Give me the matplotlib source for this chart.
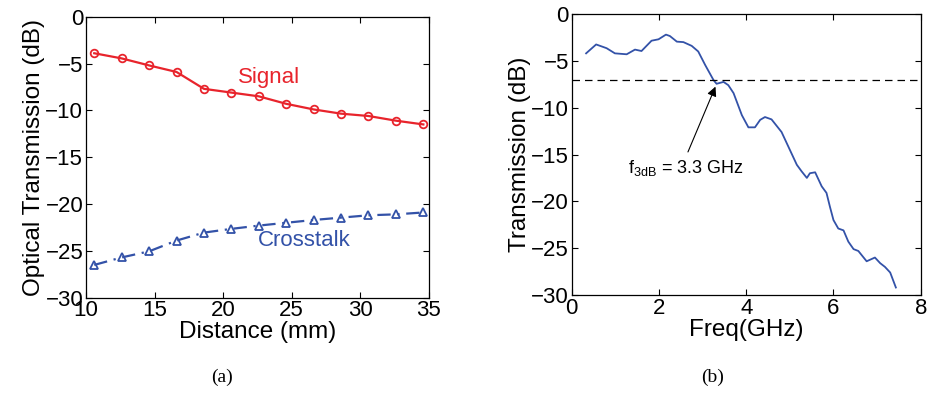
import matplotlib.pyplot as plt

plt.rcParams['font.family'] = ['Liberation Sans', 'DejaVu Sans']

# (a) signal / crosstalk vs distance
distance = [10.6, 12.6, 14.6, 16.6, 18.6, 20.6, 22.6, 24.6, 26.6, 28.6, 30.6, 32.6, 34.6]
signal = [-3.9, -4.45, -5.2, -5.9, -7.7, -8.1, -8.5, -9.3, -9.9, -10.35, -10.6, -11.1, -11.5]
crosstalk = [-26.5, -25.7, -25.05, -23.9, -23.05, -22.65, -22.3, -22.0, -21.7, -21.45, -21.2, -21.1, -20.9]

# (b) frequency response
freq = [0.33, 0.56, 0.80, 0.99, 1.26, 1.45, 1.60, 1.83, 1.99, 2.16, 2.25, 2.41, 2.56,
        2.75, 2.90, 3.06, 3.25, 3.32, 3.48, 3.59, 3.71, 3.90, 4.05, 4.20, 4.32, 4.43,
        4.58, 4.81, 5.00, 5.16, 5.27, 5.39, 5.46, 5.58, 5.73, 5.84, 5.92, 6.00, 6.11,
        6.23, 6.34, 6.46, 6.57, 6.76, 6.95, 7.07, 7.18, 7.30, 7.43]
trans = [-4.2, -3.25, -3.65, -4.2, -4.3, -3.8, -3.95, -2.85, -2.7, -2.2, -2.35, -2.95, -3.0,
         -3.4, -4.0, -5.45, -7.05, -7.45, -7.25, -7.6, -8.45, -10.8, -12.1, -12.1, -11.3, -11.0,
         -11.25, -12.6, -14.5, -16.1, -16.8, -17.5, -17.0, -16.9, -18.4, -19.1, -20.6, -22.0, -22.9,
         -23.1, -24.3, -25.1, -25.3, -26.4, -26.0, -26.6, -27.0, -27.6, -29.2]
level_3db = -7.08
f3db = 3.32

red = '#e8242c'
blue = '#3352a8'

fig = plt.figure(figsize=(9.29, 3.98), dpi=100)
ax1 = fig.add_axes([0.0926, 0.252, 0.369, 0.706])
ax2 = fig.add_axes([0.6154, 0.2588, 0.3757, 0.706])

ax1.plot(distance, signal, '-', color=red, lw=1.6, marker='o', ms=5.5,
         mfc='none', mec=red, mew=1.3)
ax1.plot(distance, crosstalk, '-.', color=blue, lw=1.6, marker='^', ms=5.5,
         mfc='none', mec=blue, mew=1.3, dashes=[6, 3, 1, 3])
ax1.text(21.1, -6.5, 'Signal', color=red, fontsize=16, va='center')
ax1.text(22.5, -23.85, 'Crosstalk', color=blue, fontsize=16, va='center')
ax1.set_xlim(10, 35)
ax1.set_ylim(-30, 0)
ax1.set_xticks([10, 15, 20, 25, 30, 35])
ax1.set_yticks([0, -5, -10, -15, -20, -25, -30])
ax1.set_xlabel('Distance (mm)', fontsize=17.5, labelpad=0)
ax1.set_ylabel('Optical Transmission (dB)', fontsize=17.5, labelpad=0)

ax2.plot(freq, trans, '-', color=blue, lw=1.3)
ax2.axhline(level_3db, color='black', lw=0.9, ls=(0, (6, 4)))
ax2.annotate('', xy=(f3db, level_3db - 0.4), xytext=(2.64, -15.0),
             arrowprops=dict(arrowstyle='-|>', color='black', lw=0.8,
                             mutation_scale=14))
ax2.text(1.3, -16.4, r'f$_{\mathregular{3dB}}$ = 3.3 GHz', fontsize=13, va='center')
ax2.set_xlim(0, 8)
ax2.set_ylim(-30, 0)
ax2.set_xticks([0, 2, 4, 6, 8])
ax2.set_yticks([0, -5, -10, -15, -20, -25, -30])
ax2.set_xlabel('Freq(GHz)', fontsize=17.5, labelpad=0)
ax2.set_ylabel('Transmission (dB)', fontsize=17.5, labelpad=0)

for ax in (ax1, ax2):
    ax.tick_params(direction='in', top=True, right=True, labelsize=16, length=4, pad=2)
    for s in ax.spines.values():
        s.set_linewidth(0.9)
    ax.set_yticklabels([str(t).replace('-', '\u2212') for t in ax.get_yticks().astype(int)])

fig.text(0.239, 0.04, '(a)', fontsize=14, family='Liberation Serif', ha='center')
fig.text(0.767, 0.04, '(b)', fontsize=14, family='Liberation Serif', ha='center')

fig.savefig('out.png', dpi=100)
